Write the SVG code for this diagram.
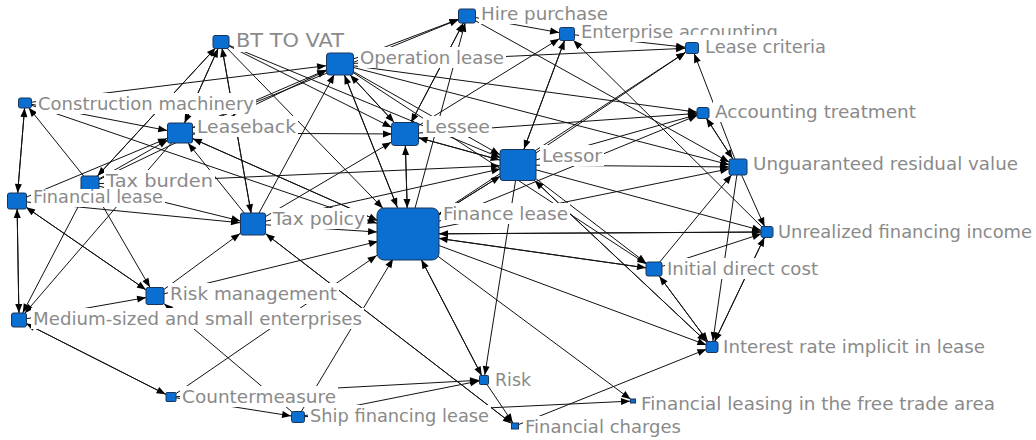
<svg xmlns="http://www.w3.org/2000/svg" width="1036" height="440" viewBox="0 0 1036 440">
<style>
.e line{stroke:#111;stroke-width:1;fill:none}
.n{fill:#0a6fd1;stroke:#1a355a;stroke-width:1}
.bg{fill:#fff}
.t{font-family:"DejaVu Sans","Liberation Sans",sans-serif;font-size:17px;fill:#8a8a8a}
.tb{font-family:"DejaVu Sans","Liberation Sans",sans-serif;font-size:19px;fill:#8a8a8a}
</style>
<defs>
<marker id="a3" markerUnits="userSpaceOnUse" markerWidth="10" markerHeight="8" refX="12" refY="0" orient="auto" overflow="visible"><path d="M0,-3.5L9,0L0,3.5z"/></marker>
<marker id="a4" markerUnits="userSpaceOnUse" markerWidth="10" markerHeight="8" refX="13" refY="0" orient="auto" overflow="visible"><path d="M0,-3.5L9,0L0,3.5z"/></marker>
<marker id="a5" markerUnits="userSpaceOnUse" markerWidth="10" markerHeight="8" refX="14" refY="0" orient="auto" overflow="visible"><path d="M0,-3.5L9,0L0,3.5z"/></marker>
<marker id="a6" markerUnits="userSpaceOnUse" markerWidth="10" markerHeight="8" refX="15" refY="0" orient="auto" overflow="visible"><path d="M0,-3.5L9,0L0,3.5z"/></marker>
<marker id="a7" markerUnits="userSpaceOnUse" markerWidth="10" markerHeight="8" refX="16" refY="0" orient="auto" overflow="visible"><path d="M0,-3.5L9,0L0,3.5z"/></marker>
<marker id="a8" markerUnits="userSpaceOnUse" markerWidth="10" markerHeight="8" refX="17" refY="0" orient="auto" overflow="visible"><path d="M0,-3.5L9,0L0,3.5z"/></marker>
<marker id="a9" markerUnits="userSpaceOnUse" markerWidth="10" markerHeight="8" refX="18" refY="0" orient="auto" overflow="visible"><path d="M0,-3.5L9,0L0,3.5z"/></marker>
<marker id="a10" markerUnits="userSpaceOnUse" markerWidth="10" markerHeight="8" refX="19" refY="0" orient="auto" overflow="visible"><path d="M0,-3.5L9,0L0,3.5z"/></marker>
<marker id="a11" markerUnits="userSpaceOnUse" markerWidth="10" markerHeight="8" refX="20" refY="0" orient="auto" overflow="visible"><path d="M0,-3.5L9,0L0,3.5z"/></marker>
<marker id="a12" markerUnits="userSpaceOnUse" markerWidth="10" markerHeight="8" refX="21" refY="0" orient="auto" overflow="visible"><path d="M0,-3.5L9,0L0,3.5z"/></marker>
<marker id="a13" markerUnits="userSpaceOnUse" markerWidth="10" markerHeight="8" refX="22" refY="0" orient="auto" overflow="visible"><path d="M0,-3.5L9,0L0,3.5z"/></marker>
<marker id="a14" markerUnits="userSpaceOnUse" markerWidth="10" markerHeight="8" refX="23" refY="0" orient="auto" overflow="visible"><path d="M0,-3.5L9,0L0,3.5z"/></marker>
<marker id="a15" markerUnits="userSpaceOnUse" markerWidth="10" markerHeight="8" refX="24" refY="0" orient="auto" overflow="visible"><path d="M0,-3.5L9,0L0,3.5z"/></marker>
<marker id="a16" markerUnits="userSpaceOnUse" markerWidth="10" markerHeight="8" refX="25" refY="0" orient="auto" overflow="visible"><path d="M0,-3.5L9,0L0,3.5z"/></marker>
<marker id="a17" markerUnits="userSpaceOnUse" markerWidth="10" markerHeight="8" refX="26" refY="0" orient="auto" overflow="visible"><path d="M0,-3.5L9,0L0,3.5z"/></marker>
<marker id="a18" markerUnits="userSpaceOnUse" markerWidth="10" markerHeight="8" refX="27" refY="0" orient="auto" overflow="visible"><path d="M0,-3.5L9,0L0,3.5z"/></marker>
<marker id="a19" markerUnits="userSpaceOnUse" markerWidth="10" markerHeight="8" refX="28" refY="0" orient="auto" overflow="visible"><path d="M0,-3.5L9,0L0,3.5z"/></marker>
<marker id="a21" markerUnits="userSpaceOnUse" markerWidth="10" markerHeight="8" refX="30" refY="0" orient="auto" overflow="visible"><path d="M0,-3.5L9,0L0,3.5z"/></marker>
<marker id="a23" markerUnits="userSpaceOnUse" markerWidth="10" markerHeight="8" refX="32" refY="0" orient="auto" overflow="visible"><path d="M0,-3.5L9,0L0,3.5z"/></marker>
<marker id="a26" markerUnits="userSpaceOnUse" markerWidth="10" markerHeight="8" refX="35" refY="0" orient="auto" overflow="visible"><path d="M0,-3.5L9,0L0,3.5z"/></marker>
<marker id="a29" markerUnits="userSpaceOnUse" markerWidth="10" markerHeight="8" refX="38" refY="0" orient="auto" overflow="visible"><path d="M0,-3.5L9,0L0,3.5z"/></marker>
<marker id="a31" markerUnits="userSpaceOnUse" markerWidth="10" markerHeight="8" refX="40" refY="0" orient="auto" overflow="visible"><path d="M0,-3.5L9,0L0,3.5z"/></marker>
<marker id="a33" markerUnits="userSpaceOnUse" markerWidth="10" markerHeight="8" refX="42" refY="0" orient="auto" overflow="visible"><path d="M0,-3.5L9,0L0,3.5z"/></marker>
<marker id="a36" markerUnits="userSpaceOnUse" markerWidth="10" markerHeight="8" refX="45" refY="0" orient="auto" overflow="visible"><path d="M0,-3.5L9,0L0,3.5z"/></marker>
<marker id="a38" markerUnits="userSpaceOnUse" markerWidth="10" markerHeight="8" refX="47" refY="0" orient="auto" overflow="visible"><path d="M0,-3.5L9,0L0,3.5z"/></marker>
</defs>
<rect width="1036" height="440" fill="#fff"/>
<g id="connectors" class="e">
<line x1="90" y1="184" x2="221" y2="42" marker-end="url(#a8)"/>
<line x1="180" y1="133" x2="221" y2="42" marker-end="url(#a7)"/>
<line x1="221" y1="42" x2="180" y2="133" marker-end="url(#a11)"/>
<line x1="253" y1="224" x2="221" y2="42" marker-end="url(#a6)"/>
<line x1="221" y1="42" x2="253" y2="224" marker-end="url(#a11)"/>
<line x1="221" y1="42" x2="405" y2="134" marker-end="url(#a15)"/>
<line x1="221" y1="42" x2="518" y2="165" marker-end="url(#a19)"/>
<line x1="221" y1="42" x2="408" y2="234" marker-end="url(#a36)"/>
<line x1="221" y1="42" x2="90" y2="184" marker-end="url(#a11)"/>
<line x1="25" y1="103" x2="340" y2="64" marker-end="url(#a14)"/>
<line x1="25" y1="103" x2="17" y2="201" marker-end="url(#a8)"/>
<line x1="17" y1="201" x2="25" y2="103" marker-end="url(#a5)"/>
<line x1="25" y1="103" x2="180" y2="133" marker-end="url(#a13)"/>
<line x1="25" y1="103" x2="408" y2="234" marker-end="url(#a33)"/>
<line x1="90" y1="184" x2="25" y2="103" marker-end="url(#a6)"/>
<line x1="17" y1="201" x2="19" y2="320" marker-end="url(#a7)"/>
<line x1="19" y1="320" x2="17" y2="201" marker-end="url(#a8)"/>
<line x1="17" y1="201" x2="253" y2="224" marker-end="url(#a13)"/>
<line x1="17" y1="201" x2="155" y2="296" marker-end="url(#a11)"/>
<line x1="155" y1="296" x2="17" y2="201" marker-end="url(#a11)"/>
<line x1="17" y1="201" x2="180" y2="133" marker-end="url(#a14)"/>
<line x1="90" y1="184" x2="180" y2="133" marker-end="url(#a14)"/>
<line x1="90" y1="184" x2="253" y2="224" marker-end="url(#a13)"/>
<line x1="90" y1="184" x2="340" y2="64" marker-end="url(#a15)"/>
<line x1="90" y1="184" x2="518" y2="165" marker-end="url(#a18)"/>
<line x1="90" y1="184" x2="155" y2="296" marker-end="url(#a10)"/>
<line x1="90" y1="184" x2="19" y2="320" marker-end="url(#a8)"/>
<line x1="180" y1="133" x2="340" y2="64" marker-end="url(#a15)"/>
<line x1="180" y1="133" x2="467" y2="16" marker-end="url(#a9)"/>
<line x1="180" y1="133" x2="405" y2="134" marker-end="url(#a13)"/>
<line x1="180" y1="133" x2="408" y2="234" marker-end="url(#a33)"/>
<line x1="408" y1="234" x2="180" y2="133" marker-end="url(#a14)"/>
<line x1="180" y1="133" x2="19" y2="320" marker-end="url(#a9)"/>
<line x1="253" y1="224" x2="180" y2="133" marker-end="url(#a13)"/>
<line x1="340" y1="64" x2="467" y2="16" marker-end="url(#a9)"/>
<line x1="340" y1="64" x2="692" y2="48" marker-end="url(#a7)"/>
<line x1="340" y1="64" x2="703" y2="113" marker-end="url(#a6)"/>
<line x1="340" y1="64" x2="738" y2="167" marker-end="url(#a9)"/>
<line x1="340" y1="64" x2="405" y2="134" marker-end="url(#a16)"/>
<line x1="405" y1="134" x2="340" y2="64" marker-end="url(#a15)"/>
<line x1="340" y1="64" x2="518" y2="165" marker-end="url(#a21)"/>
<line x1="340" y1="64" x2="408" y2="234" marker-end="url(#a29)"/>
<line x1="408" y1="234" x2="340" y2="64" marker-end="url(#a12)"/>
<line x1="340" y1="64" x2="654" y2="269" marker-end="url(#a9)"/>
<line x1="253" y1="224" x2="340" y2="64" marker-end="url(#a12)"/>
<line x1="467" y1="16" x2="567" y2="34" marker-end="url(#a8)"/>
<line x1="467" y1="16" x2="738" y2="167" marker-end="url(#a10)"/>
<line x1="467" y1="16" x2="405" y2="134" marker-end="url(#a13)"/>
<line x1="405" y1="134" x2="467" y2="16" marker-end="url(#a8)"/>
<line x1="408" y1="234" x2="467" y2="16" marker-end="url(#a7)"/>
<line x1="567" y1="34" x2="692" y2="48" marker-end="url(#a7)"/>
<line x1="405" y1="134" x2="567" y2="34" marker-end="url(#a9)"/>
<line x1="518" y1="165" x2="567" y2="34" marker-end="url(#a7)"/>
<line x1="767" y1="232" x2="567" y2="34" marker-end="url(#a9)"/>
<line x1="567" y1="34" x2="518" y2="165" marker-end="url(#a17)"/>
<line x1="738" y1="167" x2="692" y2="48" marker-end="url(#a6)"/>
<line x1="518" y1="165" x2="692" y2="48" marker-end="url(#a8)"/>
<line x1="408" y1="234" x2="692" y2="48" marker-end="url(#a8)"/>
<line x1="405" y1="134" x2="703" y2="113" marker-end="url(#a6)"/>
<line x1="518" y1="165" x2="703" y2="113" marker-end="url(#a6)"/>
<line x1="408" y1="234" x2="703" y2="113" marker-end="url(#a6)"/>
<line x1="703" y1="113" x2="738" y2="167" marker-end="url(#a10)"/>
<line x1="738" y1="167" x2="703" y2="113" marker-end="url(#a6)"/>
<line x1="518" y1="165" x2="738" y2="167" marker-end="url(#a9)"/>
<line x1="408" y1="234" x2="738" y2="167" marker-end="url(#a9)"/>
<line x1="654" y1="269" x2="738" y2="167" marker-end="url(#a10)"/>
<line x1="738" y1="167" x2="767" y2="232" marker-end="url(#a6)"/>
<line x1="738" y1="167" x2="712" y2="347" marker-end="url(#a6)"/>
<line x1="408" y1="234" x2="767" y2="232" marker-end="url(#a6)"/>
<line x1="767" y1="232" x2="408" y2="234" marker-end="url(#a31)"/>
<line x1="518" y1="165" x2="767" y2="232" marker-end="url(#a6)"/>
<line x1="654" y1="269" x2="767" y2="232" marker-end="url(#a6)"/>
<line x1="712" y1="347" x2="767" y2="232" marker-end="url(#a6)"/>
<line x1="767" y1="232" x2="712" y2="347" marker-end="url(#a6)"/>
<line x1="518" y1="165" x2="654" y2="269" marker-end="url(#a10)"/>
<line x1="408" y1="234" x2="654" y2="269" marker-end="url(#a8)"/>
<line x1="654" y1="269" x2="408" y2="234" marker-end="url(#a31)"/>
<line x1="654" y1="269" x2="712" y2="347" marker-end="url(#a7)"/>
<line x1="712" y1="347" x2="654" y2="269" marker-end="url(#a9)"/>
<line x1="408" y1="234" x2="712" y2="347" marker-end="url(#a6)"/>
<line x1="515" y1="426" x2="712" y2="347" marker-end="url(#a6)"/>
<line x1="518" y1="165" x2="712" y2="347" marker-end="url(#a8)"/>
<line x1="712" y1="347" x2="518" y2="165" marker-end="url(#a23)"/>
<line x1="405" y1="134" x2="518" y2="165" marker-end="url(#a19)"/>
<line x1="518" y1="165" x2="405" y2="134" marker-end="url(#a14)"/>
<line x1="253" y1="224" x2="518" y2="165" marker-end="url(#a18)"/>
<line x1="253" y1="224" x2="405" y2="134" marker-end="url(#a16)"/>
<line x1="408" y1="234" x2="518" y2="165" marker-end="url(#a21)"/>
<line x1="518" y1="165" x2="408" y2="234" marker-end="url(#a36)"/>
<line x1="405" y1="134" x2="408" y2="234" marker-end="url(#a26)"/>
<line x1="408" y1="234" x2="405" y2="134" marker-end="url(#a12)"/>
<line x1="253" y1="224" x2="408" y2="234" marker-end="url(#a31)"/>
<line x1="155" y1="296" x2="408" y2="234" marker-end="url(#a31)"/>
<line x1="155" y1="296" x2="253" y2="224" marker-end="url(#a16)"/>
<line x1="408" y1="234" x2="484" y2="380" marker-end="url(#a5)"/>
<line x1="484" y1="380" x2="408" y2="234" marker-end="url(#a29)"/>
<line x1="518" y1="165" x2="484" y2="380" marker-end="url(#a5)"/>
<line x1="171" y1="397" x2="484" y2="380" marker-end="url(#a5)"/>
<line x1="298" y1="417" x2="484" y2="380" marker-end="url(#a5)"/>
<line x1="484" y1="380" x2="515" y2="426" marker-end="url(#a4)"/>
<line x1="298" y1="417" x2="633" y2="401" marker-end="url(#a3)"/>
<line x1="408" y1="234" x2="633" y2="401" marker-end="url(#a3)"/>
<line x1="253" y1="224" x2="515" y2="426" marker-end="url(#a4)"/>
<line x1="515" y1="426" x2="253" y2="224" marker-end="url(#a16)"/>
<line x1="298" y1="417" x2="408" y2="234" marker-end="url(#a29)"/>
<line x1="171" y1="397" x2="408" y2="234" marker-end="url(#a38)"/>
<line x1="298" y1="417" x2="155" y2="296" marker-end="url(#a12)"/>
<line x1="19" y1="320" x2="155" y2="296" marker-end="url(#a9)"/>
<line x1="19" y1="320" x2="171" y2="397" marker-end="url(#a6)"/>
<line x1="171" y1="397" x2="19" y2="320" marker-end="url(#a8)"/>
<line x1="171" y1="397" x2="298" y2="417" marker-end="url(#a7)"/>
</g>
<g id="hire-purchase"><rect class="bg" x="479" y="3" width="131" height="21"/><text class="t" x="481" y="20" textLength="127" lengthAdjust="spacingAndGlyphs">Hire purchase</text><rect class="n" x="458.5" y="9" width="17" height="14" rx="2"/></g>
<g id="enterprise-accounting"><rect class="bg" x="579" y="21" width="201" height="21"/><text class="t" x="581" y="38" textLength="197" lengthAdjust="spacingAndGlyphs">Enterprise accounting</text><rect class="n" x="559.5" y="27.5" width="15" height="13" rx="2"/></g>
<g id="lease-criteria"><rect class="bg" x="679" y="35" width="102" height="8"/><rect class="bg" x="703" y="36" width="125" height="21"/><text class="t" x="705" y="53" textLength="121" lengthAdjust="spacingAndGlyphs">Lease criteria</text><rect class="n" x="685.5" y="42.5" width="13" height="11" rx="2"/></g>
<g id="bt-to-vat"><rect class="bg" x="234" y="28" width="112" height="24"/><text class="tb" x="236" y="47" textLength="108" lengthAdjust="spacingAndGlyphs">BT TO VAT</text><rect class="n" x="213" y="35.5" width="16" height="13" rx="2"/></g>
<g id="operation-lease"><rect class="bg" x="358" y="47" width="148" height="21"/><text class="t" x="360" y="64" textLength="144" lengthAdjust="spacingAndGlyphs">Operation lease</text><rect class="n" x="326.5" y="53" width="27" height="22" rx="3"/></g>
<g id="construction-machinery"><rect class="bg" x="36" y="93" width="220" height="21"/><text class="t" x="38" y="110" textLength="216" lengthAdjust="spacingAndGlyphs">Construction machinery</text><rect class="n" x="18.5" y="98" width="13" height="10" rx="2"/></g>
<g id="leaseback"><rect class="bg" x="195" y="116" width="103" height="21"/><text class="t" x="197" y="133" textLength="99" lengthAdjust="spacingAndGlyphs">Leaseback</text><rect class="n" x="167.5" y="123" width="25" height="20" rx="2"/></g>
<g id="lessee"><rect class="bg" x="423" y="116" width="69" height="21"/><text class="t" x="425" y="133" textLength="65" lengthAdjust="spacingAndGlyphs">Lessee</text><rect class="n" x="391.5" y="122.5" width="27" height="23" rx="3"/></g>
<g id="lessor"><rect class="bg" x="540" y="145" width="64" height="21"/><text class="t" x="542" y="162" textLength="60" lengthAdjust="spacingAndGlyphs">Lessor</text><rect class="n" x="500" y="149.5" width="36" height="31" rx="3"/></g>
<g id="accounting-treatment"><rect class="bg" x="713" y="101" width="205" height="21"/><text class="t" x="715" y="118" textLength="201" lengthAdjust="spacingAndGlyphs">Accounting treatment</text><rect class="n" x="697" y="107.5" width="12" height="11" rx="2"/></g>
<g id="unguaranteed-residual-value"><rect class="bg" x="751" y="153" width="269" height="21"/><text class="t" x="753" y="170" textLength="265" lengthAdjust="spacingAndGlyphs">Unguaranteed residual value</text><rect class="n" x="729" y="159" width="18" height="16" rx="2"/></g>
<g id="tax-burden"><rect class="bg" x="104" y="170" width="111" height="21"/><text class="t" x="106" y="187" textLength="107" lengthAdjust="spacingAndGlyphs">Tax burden</text><rect class="n" x="81" y="176" width="18" height="16" rx="2"/></g>
<g id="financial-lease"><rect class="bg" x="31" y="189" width="134" height="18"/><text class="t" x="33" y="203" textLength="130" lengthAdjust="spacingAndGlyphs">Financial lease</text><rect class="n" x="7.5" y="193" width="19" height="16" rx="2"/></g>
<g id="tax-policy"><rect class="bg" x="271" y="208" width="96" height="21"/><text class="t" x="273" y="225" textLength="92" lengthAdjust="spacingAndGlyphs">Tax policy</text><rect class="n" x="240.5" y="213" width="25" height="22" rx="2"/></g>
<g id="finance-lease"><rect class="bg" x="441" y="203" width="129" height="21"/><text class="t" x="443" y="220" textLength="125" lengthAdjust="spacingAndGlyphs">Finance lease</text><rect class="n" x="377" y="208" width="62" height="52" rx="7"/></g>
<g id="unrealized-financing-income"><rect class="bg" x="776" y="221" width="258" height="21"/><text class="t" x="778" y="238" textLength="254" lengthAdjust="spacingAndGlyphs">Unrealized financing income</text><rect class="n" x="761" y="226.5" width="12" height="11" rx="2"/></g>
<g id="initial-direct-cost"><rect class="bg" x="665" y="258" width="155" height="21"/><text class="t" x="667" y="275" textLength="151" lengthAdjust="spacingAndGlyphs">Initial direct cost</text><rect class="n" x="646" y="262" width="16" height="14" rx="2"/></g>
<g id="risk-management"><rect class="bg" x="168" y="283" width="171" height="21"/><text class="t" x="170" y="300" textLength="167" lengthAdjust="spacingAndGlyphs">Risk management</text><rect class="n" x="146" y="287.5" width="18" height="17" rx="2"/></g>
<g id="medium-sized-and-small-enterprises"><rect class="bg" x="31" y="308" width="333" height="21"/><text class="t" x="33" y="325" textLength="329" lengthAdjust="spacingAndGlyphs">Medium-sized and small enterprises</text><rect class="n" x="11.5" y="313" width="15" height="14" rx="2"/></g>
<g id="interest-rate-implicit-in-lease"><rect class="bg" x="721" y="336" width="266" height="21"/><text class="t" x="723" y="353" textLength="262" lengthAdjust="spacingAndGlyphs">Interest rate implicit in lease</text><rect class="n" x="706" y="341.5" width="12" height="11" rx="2"/></g>
<g id="risk"><rect class="bg" x="493" y="369" width="40" height="21"/><text class="t" x="495" y="386" textLength="36" lengthAdjust="spacingAndGlyphs">Risk</text><rect class="n" x="479.5" y="375.5" width="9" height="9" rx="1"/></g>
<g id="countermeasure"><rect class="bg" x="180" y="386" width="158" height="21"/><text class="t" x="182" y="403" textLength="154" lengthAdjust="spacingAndGlyphs">Countermeasure</text><rect class="n" x="166" y="392.5" width="10" height="9" rx="1"/></g>
<g id="ship-financing-lease"><rect class="bg" x="308" y="405" width="183" height="21"/><text class="t" x="310" y="422" textLength="179" lengthAdjust="spacingAndGlyphs">Ship financing lease</text><rect class="n" x="291.5" y="411.5" width="13" height="11" rx="2"/></g>
<g id="financial-leasing-in-the-free-trade-area"><rect class="bg" x="639" y="393" width="358" height="21"/><text class="t" x="641" y="410" textLength="354" lengthAdjust="spacingAndGlyphs">Financial leasing in the free trade area</text><rect class="n" x="630.5" y="399" width="5" height="4"/></g>
<g id="financial-charges"><rect class="bg" x="523" y="416" width="160" height="21"/><text class="t" x="525" y="433" textLength="156" lengthAdjust="spacingAndGlyphs">Financial charges</text><rect class="n" x="511.5" y="423" width="7" height="6"/></g>
</svg>
